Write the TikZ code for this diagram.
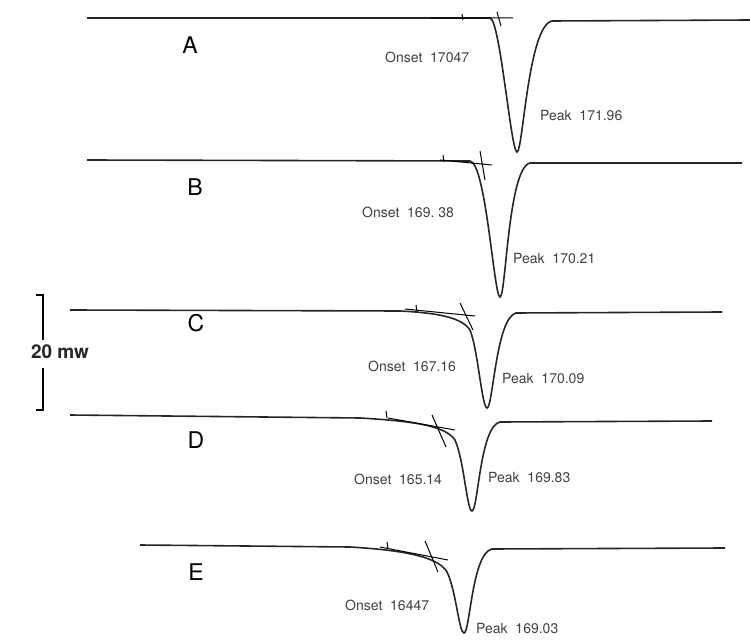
\documentclass[tikz,border=0pt]{standalone}
\usepackage{fontspec}
\setmainfont{TeX Gyre Heros}
\usetikzlibrary{positioning}
\begin{document}
\begin{tikzpicture}
	[x=1pt,y=-1pt,trace/.style={line width=1.6pt,black!85},
	tan line/.style={line width=1pt,black},
	letter/.style={font=\fontsize{23}{23}\selectfont,inner sep=0pt},
	val/.style={font=\fontsize{14}{14}\selectfont,text=black!75,inner sep=0pt,anchor=west}]
	\useasboundingbox (0,0) rectangle (750,644);
	
	% A
	\draw[trace] (87,18) -- (490,18) .. controls (500,19) and (511,152) .. (517,152) .. controls (523,152) and (528,26) .. (552,21) -- (750,20);
	\draw[tan line] (430,18) -- (513,18) (497,12) -- (501,26) (462,14) -- (463,20);
	\node[letter] (a) at (190,45) {A};
	\node[val] (ona) at (385,57) {Onset\ \ 17047};
	\node[val] (pka) at (540,116) {Peak\ \ 171.96};
	
	% B
	\draw[trace] (87,160) -- (470,161) .. controls (486,163) and (494,297) .. (500,297) .. controls (506,297) and (508,168) .. (530,163) -- (742,163);
	\draw[tan line] (440,160) -- (492,165) (480,151) -- (485,180) (443,155) -- (444,162);
	\node[letter] (b) at (195,187) {B};
	\node[val] (onb) at (362,212) {Onset\ \ 169.\ 38};
	\node[val] (pkb) at (513,259) {Peak\ \ 170.21};
	
	% C
	\draw[trace] (70,310) -- (400,311) .. controls (440,313) and (462,318) .. (470,330) .. controls (478,350) and (482,408) .. (487,408) .. controls (493,408) and (496,318) .. (516,313) -- (722,312);
	\draw[tan line] (405,309) -- (475,316) (460,303) -- (473,330) (416,305) -- (417,312);
	\node[letter] (c) at (196,323) {C};
	\node[val] (onc) at (368,366) {Onset\ \ 167.16};
	\node[val] (pkc) at (502,379) {Peak\ \ 170.09};
	
	% D
	\draw[trace] (70,415) -- (360,418) .. controls (410,421) and (445,425) .. (455,440) .. controls (464,460) and (467,511) .. (472,511) .. controls (478,511) and (480,426) .. (500,422) -- (712,421);
	\draw[tan line] (388,418) -- (455,430) (432,415) -- (446,447) (386,411) -- (387,418);
	\node[letter] (d) at (196,440) {D};
	\node[val] (ond) at (354,479) {Onset\ \ 165.14};
	\node[val] (pkd) at (488,478) {Peak\ \ 169.83};
	
	% E
	\draw[trace] (140,545) -- (350,547) .. controls (400,550) and (438,556) .. (447,572) .. controls (456,590) and (459,633) .. (464,633) .. controls (470,633) and (472,553) .. (492,549) -- (725,548);
	\draw[tan line] (380,547) -- (448,560) (425,541) -- (438,572) (387,542) -- (388,549);
	\node[letter] (e) at (196,572) {E};
	\node[val] (one) at (345,605) {Onset\ \ 16447};
	\node[val] (pke) at (476,628) {Peak\ \ 169.03};
	
	% scale bar
	\draw[line width=1.4pt] (36,295) -- (43,295) -- (43,340) (43,368) -- (43,410) -- (36,410);
	\node[font=\bfseries\fontsize{19}{19}\selectfont,inner sep=0pt,text=black!85] (mw) at (60,352) {20 mw};
\end{tikzpicture}
\end{document}
